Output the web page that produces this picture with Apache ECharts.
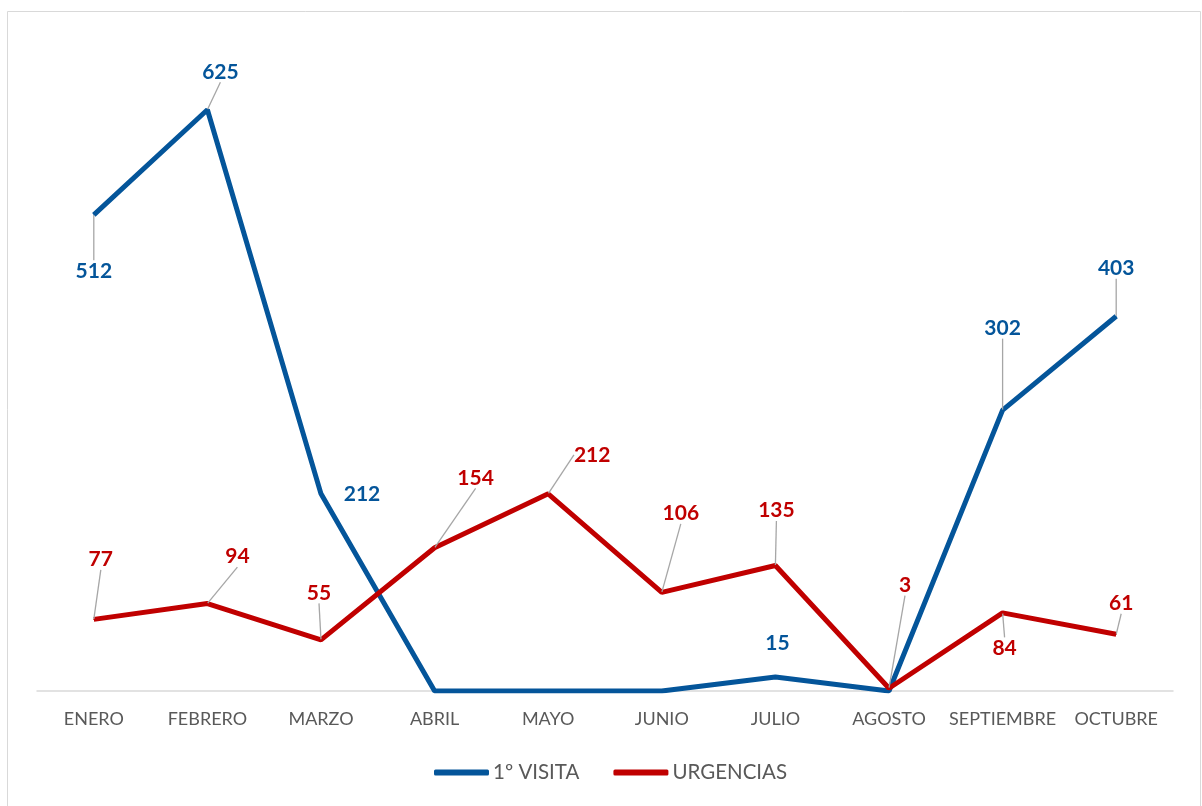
<!DOCTYPE html>
<html>
<head>
<meta charset="utf-8">
<script src="https://cdn.jsdelivr.net/npm/echarts@6/dist/echarts.min.js"></script>
<style>
html,body{margin:0;padding:0;background:#fff;}
#chart{width:1202px;height:806px;}
</style>
</head>
<body>
<div id="chart"></div>
<script>
const categories = ['ENERO','FEBRERO','MARZO','ABRIL','MAYO','JUNIO','JULIO','AGOSTO','SEPTIEMBRE','OCTUBRE'];
const visita = [512, 625, 212, 0, 0, 0, 15, 0, 302, 403];
const urgencias = [77, 94, 55, 154, 212, 106, 135, 3, 84, 61];
const seriesNames = ['1º VISITA', 'URGENCIAS'];

// label offsets (style only)
const visitaOffsets = [[0,56],[13,-38],[41,0],[0,0],[0,0],[0,0],[2,-34],[0,0],[0,-82],[0,-48]];
const visitaLeader = [true,true,false,false,false,false,false,false,true,true];
const urgOffsets = [[7,-60],[30,-47],[-2,-47],[41,-70],[44,-39],[19,-79],[1,-55],[16,-103],[2,35],[5,-31]];
const urgLeader = [true,true,true,true,true,true,true,true,true,true];

const BLUE = '#04559A';
const RED = '#C00000';
const FONT = 'Lato, "Open Sans", sans-serif';

function buildData(vals, leaders, hideZero) {
  return vals.map((v, i) => ({
    value: v,
    label: { show: !(hideZero && v === 0) },
    labelLine: { show: leaders[i] }
  }));
}

const chart = echarts.init(document.getElementById('chart'));
chart.setOption({
  backgroundColor: '#fff',
  animation: false,
  graphic: [{
    type: 'rect',
    shape: { x: 7.5, y: 11.5, width: 1193, height: 800 },
    style: { fill: 'none', stroke: '#D9D9D9', lineWidth: 1 },
    silent: true
  }],
  grid: { left: 37, right: 29, top: 40, bottom: 115, containLabel: false },
  legend: {
    bottom: 23,
    left: 434,
    padding: 0,
    itemWidth: 55,
    itemHeight: 6,
    itemGap: 34,
    icon: 'roundRect',
    textStyle: { color: '#595959', fontSize: 20.5, fontFamily: FONT, padding: [0,0,0,-1] },
    data: seriesNames
  },
  xAxis: {
    type: 'category',
    data: categories,
    boundaryGap: true,
    axisLine: { lineStyle: { color: '#D9D9D9', width: 1.5 } },
    axisTick: { show: false },
    axisLabel: { color: '#595959', fontSize: 18, fontFamily: FONT, margin: 19, interval: 0 }
  },
  yAxis: {
    type: 'value',
    min: 0,
    max: 700,
    show: false,
    splitLine: { show: false }
  },
  series: [
    {
      name: seriesNames[0],
      type: 'line',
      data: buildData(visita, visitaLeader, true),
      symbol: 'circle',
      symbolSize: 1,
      showSymbol: true,
      color: BLUE,
      lineStyle: { color: BLUE, width: 5 },
      itemStyle: { color: BLUE },
      label: {
        show: true,
        position: 'inside',
        color: BLUE,
        fontWeight: 'bold',
        fontSize: 21,
        fontFamily: FONT
      },
      labelLine: { show: true, lineStyle: { color: '#A6A6A6', width: 1.3 } },
      labelLayout: function (p) {
        const o = visitaOffsets[p.dataIndex];
        return { dx: o[0], dy: o[1] };
      },
      z: 2
    },
    {
      name: seriesNames[1],
      type: 'line',
      data: buildData(urgencias, urgLeader, false),
      symbol: 'circle',
      symbolSize: 1,
      showSymbol: true,
      color: RED,
      lineStyle: { color: RED, width: 5 },
      itemStyle: { color: RED },
      label: {
        show: true,
        position: 'inside',
        color: RED,
        fontWeight: 'bold',
        fontSize: 21,
        fontFamily: FONT
      },
      labelLine: { show: true, lineStyle: { color: '#A6A6A6', width: 1.3 } },
      labelLayout: function (p) {
        const o = urgOffsets[p.dataIndex];
        return { dx: o[0], dy: o[1] };
      },
      z: 3
    }
  ]
});
</script>
</body>
</html>
